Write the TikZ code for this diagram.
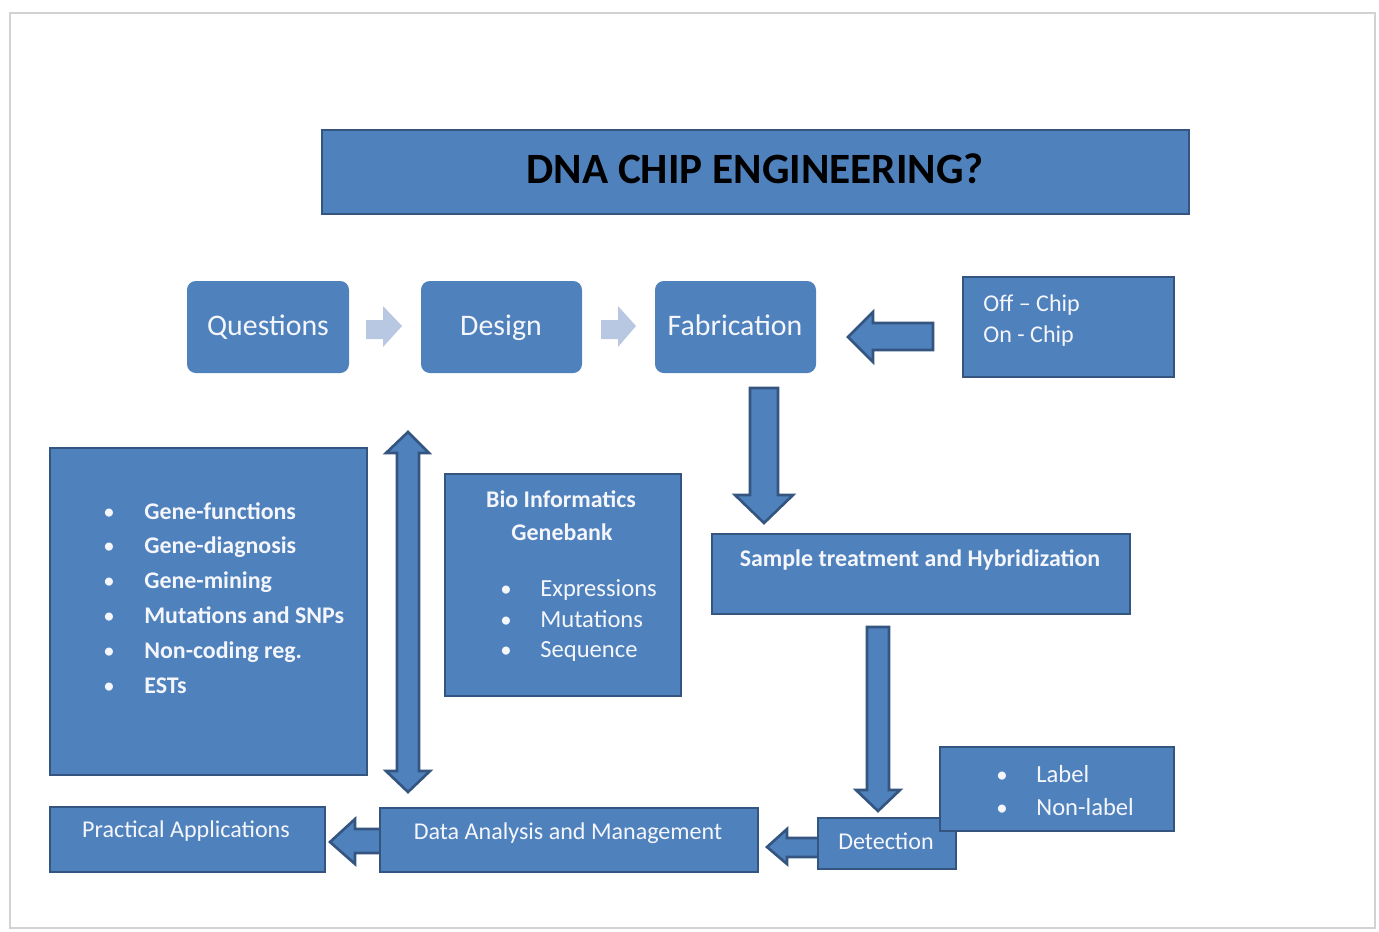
\documentclass[tikz,border=0pt]{standalone}
\usepackage{fontspec}
\setmainfont{Carlito}
\usetikzlibrary{fit}
\definecolor{boxblue}{HTML}{4F81BD}
\definecolor{boxline}{HTML}{34557F}
\definecolor{lightarrow}{HTML}{B9C8E2}
\definecolor{txtwhite}{HTML}{F4F6FB}
\definecolor{framegray}{HTML}{D2D2D2}
\begin{document}
\begin{tikzpicture}[x=0.02cm,y=-0.02cm,
  sqbox/.style={fill=boxblue,draw=boxline,line width=1.5pt,inner sep=0pt},
  rndbox/.style={fill=boxblue,rounded corners=5pt,inner sep=0pt},
  blockarrow/.style={fill=boxblue,draw=boxline,line width=1.5pt,line join=miter},
  lightblock/.style={fill=lightarrow},
  wt/.style={text=txtwhite,font=\fontsize{13.7}{16}\selectfont,inner sep=0pt},
  wtb/.style={text=txtwhite,font=\fontsize{13.6}{16}\selectfont\bfseries,inner sep=0pt},
  bigt/.style={text=txtwhite,font=\fontsize{17}{20}\selectfont,inner sep=0pt},
  ttl/.style={text=black,font=\fontsize{24.6}{28}\selectfont\bfseries,inner sep=0pt},
  bul/.style={text=txtwhite,font=\fontsize{13}{16}\selectfont,inner sep=0pt,anchor=base}]
\useasboundingbox[fill=white] (0,0) rectangle (1379,931);
% page frame
\draw[framegray,line width=1.2pt] (10,13) rectangle (1375,928);

% block arrows (drawn first so boxes cover their ends)
\fill[lightblock] (366,320) -- (383,320) -- (383,306) -- (402,326) -- (383,347) -- (383,339) -- (366,339) -- cycle;
\fill[lightblock] (601,320) -- (618,320) -- (618,306) -- (636,326) -- (618,347) -- (618,339) -- (601,339) -- cycle;
\draw[blockarrow] (933,323) -- (873,323) -- (873,312) -- (848,337) -- (873,362) -- (873,350) -- (933,350) -- cycle;
\draw[blockarrow] (750,388) -- (778,388) -- (778,495) -- (793,495) -- (764,523) -- (735,495) -- (750,495) -- cycle;
\draw[blockarrow] (867,627) -- (889,627) -- (889,790) -- (900,790) -- (878,811) -- (856,790) -- (867,790) -- cycle;
\draw[blockarrow] (820,838) -- (787,838) -- (787,829) -- (767,847) -- (787,864) -- (787,857) -- (820,857) -- cycle;
\draw[blockarrow] (381,829) -- (355,829) -- (355,819) -- (330,842) -- (355,864) -- (355,853) -- (381,853) -- cycle;
\draw[blockarrow] (408,432) -- (429,453) -- (419,453) -- (419,771) -- (430,771) -- (408,792) -- (386,771) -- (397,771) -- (397,453) -- (386,453) -- cycle;

% title
\node[sqbox,fit={(322,130) (1189,214)}] (title) {};
\node[ttl,anchor=base] (titletext) at (755,183) {DNA CHIP ENGINEERING?};

% flow boxes
\node[rndbox,fit={(187,281) (349,373)}] (questions) {};
\node[bigt,anchor=base] (questionstext) at (268,335) {Questions};
\node[rndbox,fit={(421,281) (582,373)}] (design) {};
\node[bigt,anchor=base] (designtext) at (501,335) {Design};
\node[rndbox,fit={(655,281) (816,373)}] (fab) {};
\node[bigt,anchor=base] (fabtext) at (735,335) {Fabrication};

% off/on chip
\node[sqbox,fit={(963,277) (1174,377)}] (chip) {};
\node[wt,anchor=base west] (offchip) at (983,311) {Off – Chip};
\node[wt,anchor=base west] (onchip) at (983,342) {On - Chip};

% left list
\node[sqbox,fit={(50,448) (367,775)}] (apps) {};
\foreach \t [count=\i] in {Gene-functions,Gene-diagnosis,Gene-mining,Mutations and SNPs,Non-coding reg.,ESTs}{
  \pgfmathsetmacro{\yy}{519+34.8*(\i-1)}
  \node[bul] (lb\i) at (109,\yy) {•};
  \node[wtb,anchor=base west] (lt\i) at (144,\yy) {\t};
}

% bioinformatics
\node[sqbox,fit={(445,474) (681,696)}] (bio) {};
\node[wtb,anchor=base] (biot1) at (561,507) {Bio Informatics};
\node[wtb,anchor=base] (biot2) at (562,540) {Genebank};
\foreach \t/\yy [count=\i] in {Expressions/596,Mutations/627,Sequence/657}{
  \node[bul] (bb\i) at (506,\yy) {•};
  \node[wt,font=\fontsize{14}{16}\selectfont,anchor=base west] (bt\i) at (540,\yy) {\t};
}

% sample treatment
\node[sqbox,fit={(712,534) (1130,614)}] (sample) {};
\node[wtb,anchor=base] (sampletext) at (920,566) {Sample treatment and Hybridization};

% detection and label
\node[sqbox,fit={(818,818) (956,869)}] (detect) {};
\node[wt,anchor=base] (detecttext) at (886,849) {Detection};
\node[sqbox,fit={(940,747) (1174,831)}] (label) {};
\node[bul] (lab1) at (1002,782) {•};
\node[wt,font=\fontsize{14}{16}\selectfont,anchor=base west] (labt1) at (1036,782) {Label};
\node[bul] (lab2) at (1002,815) {•};
\node[wt,font=\fontsize{14}{16}\selectfont,anchor=base west] (labt2) at (1036,815) {Non-label};

% data analysis and practical
\node[sqbox,fit={(380,808) (758,872)}] (data) {};
\node[wt,anchor=base] (datatext) at (568,839) {Data Analysis and Management};
\node[sqbox,fit={(50,807) (325,872)}] (prac) {};
\node[wt,anchor=base] (practext) at (186,837) {Practical Applications};
\end{tikzpicture}
\end{document}
